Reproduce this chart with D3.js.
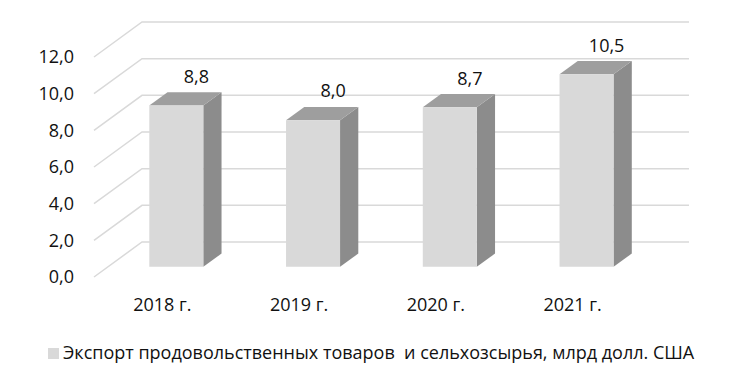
<!DOCTYPE html>
<html>
<head>
<meta charset="utf-8">
<script src="https://cdn.jsdelivr.net/npm/d3@7"></script>
<style>
  body { margin: 0; background: #fff; }
  svg text { font-family: "Open Sans", sans-serif; fill: #111; }
</style>
</head>
<body>
<svg id="chart" width="736" height="381"></svg>
<script>
// data
var years = ["2018 г.", "2019 г.", "2020 г.", "2021 г."];
var exportValues = [8.8, 8.0, 8.7, 10.5];
var yTicks = [0, 2, 4, 6, 8, 10, 12];
var seriesName = "Экспорт продовольственных товаров  и сельхозсырья, млрд долл. США";

var svg = d3.select("#chart");

// front plane scales
var x = d3.scaleBand().domain(years).range([94, 641]).padding(0);
var y = d3.scaleLinear().domain([0, 12]).range([277, 57]);

// depth offset (0 = front, 1 = back wall)
var depthX = 48, depthY = -35;
function proj(px, v, d) {
    return [px + depthX * d, y(v) + depthY * d];
}

var barD0 = 0.29, barD1 = 0.67;
var barW = x.bandwidth() * 0.395;

// gridlines: diagonal on the side wall + horizontal on the back wall
var grid = svg.append("g").attr("class", "grid");
yTicks.forEach(function(t) {
    var a = proj(94, t, 0), b = proj(94, t, 1), c = proj(641, t, 1);
    grid.append("polyline")
        .attr("points", [a, b, c].map(function(p) { return p.join(","); }).join(" "))
        .attr("fill", "none")
        .attr("stroke", "#d9d9d9")
        .attr("stroke-width", 1.5);
});

// y labels
svg.append("g").selectAll("text")
    .data(yTicks)
    .enter().append("text")
    .attr("x", 74)
    .attr("y", function(d) { return y(d); })
    .attr("dy", "0.35em")
    .attr("text-anchor", "end")
    .style("font-size", "18px")
    .text(function(d) { return d.toFixed(1).replace(".", ","); });

// bars
var bars = svg.append("g").selectAll("g")
    .data(years)
    .enter().append("g");

function pts(arr) { return arr.map(function(p) { return p.join(","); }).join(" "); }

bars.each(function(yr, i) {
    var g = d3.select(this);
    var v = exportValues[i];
    var cx = x(yr) + x.bandwidth() / 2;
    var l = cx - barW / 2, r = cx + barW / 2;
    var fl0 = proj(l, 0, barD0), fr0 = proj(r, 0, barD0);
    var flT = proj(l, v, barD0), frT = proj(r, v, barD0);
    var blT = proj(l, v, barD1), brT = proj(r, v, barD1), br0 = proj(r, 0, barD1);

    // side
    g.append("polygon").attr("points", pts([fr0, frT, brT, br0])).attr("fill", "#8c8c8c");
    // top
    g.append("polygon").attr("points", pts([flT, frT, brT, blT])).attr("fill", "#9e9e9e");
    // front
    g.append("polygon").attr("points", pts([fl0, flT, frT, fr0])).attr("fill", "#d9d9d9");

    // value label
    g.append("text")
        .attr("x", cx + 14 + 20)
        .attr("y", flT[1] - 29)
        .attr("dy", "0.35em")
        .attr("text-anchor", "middle")
        .style("font-size", "18px")
        .text(v.toFixed(1).replace(".", ","));
});

// category labels
svg.append("g").selectAll("text")
    .data(years)
    .enter().append("text")
    .attr("x", function(d) { return x(d) + x.bandwidth() / 2; })
    .attr("y", 305)
    .attr("dy", "0.35em")
    .attr("text-anchor", "middle")
    .style("font-size", "18px")
    .text(function(d) { return d; });

// legend
var legend = svg.append("g");
legend.append("rect")
    .attr("x", 48).attr("y", 348)
    .attr("width", 11).attr("height", 11)
    .attr("fill", "#d9d9d9");
legend.append("text")
    .attr("x", 63)
    .attr("y", 353)
    .attr("dy", "0.35em")
    .style("font-size", "18px")
    .style("white-space", "pre")
    .attr("xml:space", "preserve")
    .text(seriesName);
</script>
</body>
</html>
